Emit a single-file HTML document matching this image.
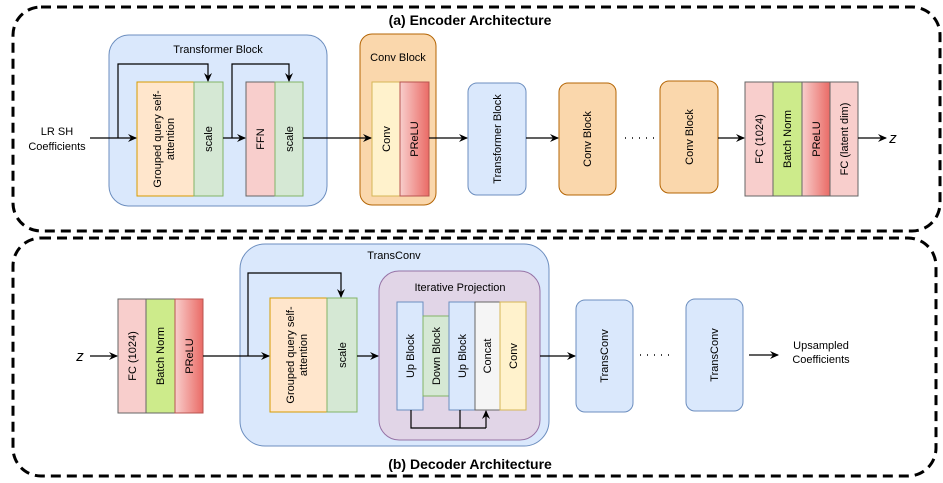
<!DOCTYPE html>
<html><head><meta charset="utf-8"><style>body{margin:0;background:#fff}svg{display:block}text{font-family:"Liberation Sans",sans-serif;fill:#000}</style></head><body>
<svg width="943" height="483" viewBox="0 0 943 483" xmlns="http://www.w3.org/2000/svg">
<defs>
<marker id="a" markerWidth="10" markerHeight="10" refX="8" refY="5" orient="auto" markerUnits="userSpaceOnUse"><path d="M0,1 L9,5 L0,9 L3,5 z" fill="#000"/></marker>
<linearGradient id="r" x1="0" x2="1" y1="0" y2="0"><stop offset="0" stop-color="#f8cecc"/><stop offset="1" stop-color="#ea6b66"/></linearGradient>
</defs>
<g fill="none" stroke="#000" stroke-width="3" stroke-dasharray="10,6">
<rect x="13" y="7" width="927" height="224" rx="28"/>
<rect x="13" y="238" width="923" height="238" rx="28"/>
</g>
<text x="470" y="25" font-size="14" font-weight="bold" text-anchor="middle">(a) Encoder Architecture</text>
<text x="470" y="469" font-size="14" font-weight="bold" text-anchor="middle">(b) Decoder Architecture</text>
<g stroke-width="1">
<rect x="109" y="35" width="218" height="171" rx="20" fill="#dae8fc" stroke="#6c8ebf"/>
<rect x="137" y="82" width="57" height="114" fill="#ffe6cc" stroke="#d79b00"/>
<rect x="194" y="82" width="29" height="114" fill="#d5e8d4" stroke="#82b366"/>
<rect x="246" y="82" width="29" height="114" fill="#f8cecc" stroke="#666"/>
<rect x="275" y="82" width="28" height="114" fill="#d5e8d4" stroke="#82b366"/>
<rect x="360" y="34" width="76" height="171" rx="12" fill="#fad7ac" stroke="#b46504"/>
<rect x="372" y="82" width="28" height="114" fill="#fff2cc" stroke="#d6b656"/>
<rect x="400" y="82" width="29" height="114" fill="url(#r)" stroke="#b85450"/>
<rect x="468" y="83" width="58" height="112" rx="9" fill="#dae8fc" stroke="#6c8ebf"/>
<rect x="559" y="83" width="57" height="112" rx="9" fill="#fad7ac" stroke="#b46504"/>
<rect x="660" y="81" width="58" height="112" rx="9" fill="#fad7ac" stroke="#b46504"/>
<rect x="745" y="82" width="28" height="114" fill="#f8cecc" stroke="#666"/>
<rect x="773" y="82" width="29" height="114" fill="#cdeb8b" stroke="#666"/>
<rect x="802" y="82" width="28" height="114" fill="url(#r)" stroke="#666"/>
<rect x="830" y="82" width="28" height="114" fill="#f8cecc" stroke="#666"/>
<rect x="118" y="299" width="28" height="114" fill="#f8cecc" stroke="#666"/>
<rect x="146" y="299" width="29" height="114" fill="#cdeb8b" stroke="#666"/>
<rect x="175" y="299" width="28" height="114" fill="url(#r)" stroke="#b85450"/>
<rect x="240" y="244" width="309" height="202" rx="25" fill="#dae8fc" stroke="#6c8ebf"/>
<rect x="270" y="298" width="57" height="114" fill="#ffe6cc" stroke="#d79b00"/>
<rect x="327" y="298" width="30" height="114" fill="#d5e8d4" stroke="#82b366"/>
<rect x="379" y="271" width="161" height="169" rx="20" fill="#e1d5e7" stroke="#9673a6"/>
<rect x="397" y="302" width="26" height="108" fill="#dae8fc" stroke="#6c8ebf"/>
<rect x="423" y="316" width="26" height="80" fill="#d5e8d4" stroke="#82b366"/>
<rect x="449" y="302" width="26" height="108" fill="#dae8fc" stroke="#6c8ebf"/>
<rect x="475" y="302" width="25" height="108" fill="#f5f5f5" stroke="#666"/>
<rect x="500" y="302" width="26" height="108" fill="#fff2cc" stroke="#d6b656"/>
<rect x="576" y="300" width="57" height="112" rx="9" fill="#dae8fc" stroke="#6c8ebf"/>
<rect x="686" y="299" width="57" height="112" rx="9" fill="#dae8fc" stroke="#6c8ebf"/>
</g>
<g fill="none" stroke="#000" stroke-width="1.2">
<path d="M90 138 H136" marker-end="url(#a)"/>
<path d="M118 138 V64 H208 V81" marker-end="url(#a)"/>
<path d="M223 138 H245" marker-end="url(#a)"/>
<path d="M232 138 V64 H289 V81" marker-end="url(#a)"/>
<path d="M303 138 H371" marker-end="url(#a)"/>
<path d="M429 138 H467" marker-end="url(#a)"/>
<path d="M526 138 H558" marker-end="url(#a)"/>
<path d="M718 138 H744" marker-end="url(#a)"/>
<path d="M858 138 H886" marker-end="url(#a)"/>
<path d="M90 356 H117" marker-end="url(#a)"/>
<path d="M203 356 H269" marker-end="url(#a)"/>
<path d="M248 356 V273 H341 V297" marker-end="url(#a)"/>
<path d="M357 356 H378" marker-end="url(#a)"/>
<path d="M411 410 V428 H486 M460 410 V428 M486 428 V411" marker-end="url(#a)"/>
<path d="M540 356 H575" marker-end="url(#a)"/>
<path d="M749 355 H778" marker-end="url(#a)"/>
</g>
<g stroke="#000" stroke-width="1.5" stroke-dasharray="1,6">
<path d="M625 138 H658"/><path d="M640 355 H673"/>
</g>
<g font-size="11" text-anchor="middle">
<text x="57" y="135">LR SH</text><text x="57" y="150">Coefficients</text>
<text x="218" y="53">Transformer Block</text>
<text x="398" y="61">Conv Block</text>
<text x="394" y="259">TransConv</text>
<text x="460" y="291">Iterative Projection</text>
<text x="821" y="349">Upsampled</text><text x="821" y="363">Coefficients</text>
<text x="893" y="143" font-family="Liberation Serif" font-style="italic" font-size="15">z</text>
<text x="80" y="361" font-family="Liberation Serif" font-style="italic" font-size="15">z</text>
</g>
<g font-size="11" text-anchor="middle">
<text transform="translate(164,139) rotate(-90)"><tspan x="0" dy="-3">Grouped query self-</tspan><tspan x="0" dy="13">attention</tspan></text>
<text transform="translate(212,139) rotate(-90)">scale</text>
<text transform="translate(264,139) rotate(-90)">FFN</text>
<text transform="translate(293,139) rotate(-90)">scale</text>
<text transform="translate(390,139) rotate(-90)">Conv</text>
<text transform="translate(418,139) rotate(-90)">PReLU</text>
<text transform="translate(501,139) rotate(-90)">Transformer Block</text>
<text transform="translate(591,139) rotate(-90)">Conv Block</text>
<text transform="translate(693,137) rotate(-90)">Conv Block</text>
<text transform="translate(763,139) rotate(-90)">FC (1024)</text>
<text transform="translate(791,139) rotate(-90)">Batch Norm</text>
<text transform="translate(820,139) rotate(-90)">PReLU</text>
<text transform="translate(848,139) rotate(-90)">FC (latent dim)</text>
<text transform="translate(136,356) rotate(-90)">FC (1024)</text>
<text transform="translate(164,356) rotate(-90)">Batch Norm</text>
<text transform="translate(193,356) rotate(-90)">PReLU</text>
<text transform="translate(297,355) rotate(-90)"><tspan x="0" dy="-3">Grouped query self-</tspan><tspan x="0" dy="13">attention</tspan></text>
<text transform="translate(346,355) rotate(-90)">scale</text>
<text transform="translate(414,356) rotate(-90)">Up Block</text>
<text transform="translate(440,356) rotate(-90)">Down Block</text>
<text transform="translate(466,356) rotate(-90)">Up Block</text>
<text transform="translate(491,356) rotate(-90)">Concat</text>
<text transform="translate(517,356) rotate(-90)">Conv</text>
<text transform="translate(608,356) rotate(-90)">TransConv</text>
<text transform="translate(718,355) rotate(-90)">TransConv</text>
</g>
</svg>
</body></html>
